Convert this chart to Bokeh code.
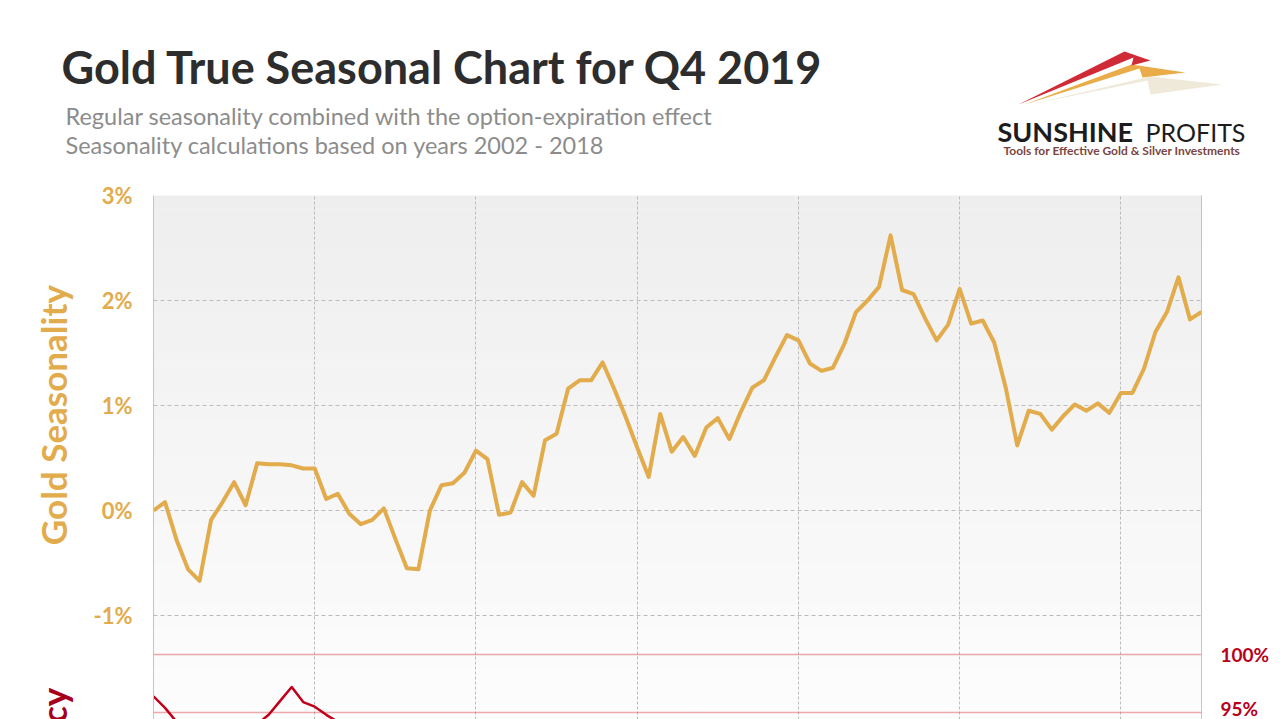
import math
from bokeh.plotting import figure
from bokeh.layouts import column, row
from bokeh.models import (Range1d, LinearAxis, FixedTicker, PrintfTickFormatter, Grid,
                          Label, BoxAnnotation, PolyAnnotation)
from bokeh.embed import file_html
from bokeh.resources import INLINE

# ---------------- data ----------------
day_index = list(range(92))
gold_seasonality = [
    0.00, 0.08, -0.28, -0.56, -0.67, -0.09, 0.08, 0.27, 0.05, 0.45,
    0.44, 0.44, 0.43, 0.40, 0.40, 0.11, 0.16, -0.03, -0.13, -0.09,
    0.02, -0.27, -0.55, -0.56, 0.00, 0.24, 0.26, 0.36, 0.57, 0.49,
    -0.04, -0.02, 0.27, 0.14, 0.67, 0.73, 1.16, 1.24, 1.24, 1.41,
    1.16, 0.89, 0.60, 0.32, 0.92, 0.56, 0.70, 0.52, 0.79, 0.88,
    0.68, 0.94, 1.17, 1.24, 1.46, 1.67, 1.62, 1.40, 1.33, 1.36,
    1.59, 1.89, 2.00, 2.13, 2.62, 2.10, 2.06, 1.83, 1.62, 1.77,
    2.11, 1.78, 1.81, 1.60, 1.17, 0.62, 0.95, 0.92, 0.77, 0.90,
    1.01, 0.95, 1.02, 0.93, 1.12, 1.12, 1.35, 1.70, 1.89, 2.22,
    1.82, 1.89,
]
accuracy_index = list(range(17))
accuracy = [96.4, 95.4, 94.2, 93.4, 92.8, 92.6, 92.8, 93.1, 93.5, 94.0,
            94.8, 96.0, 97.2, 95.9, 95.5, 94.8, 94.2]

seasonality_ticks = [-1, 0, 1, 2, 3]
accuracy_ticks = [95, 100]
x_grid_ticks = [14, 28, 42, 56, 70, 84]

title_text = "Gold True Seasonal Chart for Q4 2019"
subtitle_1 = "Regular seasonality combined with the option-expiration effect"
subtitle_2 = "Seasonality calculations based on years 2002 - 2018"
left_label = "Gold Seasonality"
lower_label = "Accuracy"
logo_1 = "SUNSHINE"
logo_2 = "PROFITS"
logo_tag = "Tools for Effective Gold & Silver Investments"

# ---------------- style / layout ----------------
GOLD = "#e2ab4c"
RED = "#b8001c"
FONT = "Lato"

W, H = 1280, 719
HEADER_H = 175
SIDE_W = 90
frame_top = 195
frame_left, frame_right = 152, 1201
main_w = W - SIDE_W
main_h = H - HEADER_H
x_end = 91
px_per_pct = 105.0
seas_top = 3.0
seas_bottom = seas_top - (H - frame_top) / px_per_pct
acc_px = 11.6
acc_100_y = 654
acc_top = 100 + (acc_100_y - frame_top) / acc_px
acc_bottom = 100 - (H - acc_100_y) / acc_px


def bare(width, height, xr, yr):
    f = figure(width=width, height=height, output_backend="svg", toolbar_location=None,
               x_range=Range1d(*xr), y_range=Range1d(*yr),
               x_axis_location=None, y_axis_location=None,
               min_border=0, min_border_left=0, min_border_right=0,
               min_border_top=0, min_border_bottom=0)
    f.title.visible = False
    f.outline_line_color = None
    f.grid.visible = False
    f.background_fill_color = "white"
    f.border_fill_color = "white"
    return f


def lab(f, text, x, y, size, color, style="normal", align="left", baseline="middle",
        angle=0.0):
    f.add_layout(Label(x=x, y=y, text=text, text_font=FONT, text_font_size=size,
                       text_color=color, text_font_style=style, text_align=align,
                       text_baseline=baseline, angle=angle))


# ---- header (page pixel coordinates) ----
header = bare(W, HEADER_H, (0, W), (HEADER_H, 0))
lab(header, title_text, 61, 66, "45px", "#2d2d2d", "bold")
lab(header, subtitle_1, 65, 115, "23.5px", "#8c8c8c")
lab(header, subtitle_2, 65, 144, "23.5px", "#8c8c8c")


def poly(f, xs, ys, color, alpha):
    f.add_layout(PolyAnnotation(xs=xs, ys=ys, fill_color=color, fill_alpha=alpha,
                                line_color=None))


poly(header, [1030, 1150, 1222, 1150, 1147], [104, 76, 84, 94, 80], "#ebe3cf", 0.8)
poly(header, [1024, 1131, 1185, 1142, 1139], [104, 64, 72, 77, 68], "#e8a83e", 0.95)
poly(header, [1018, 1124, 1150, 1131, 1133], [104, 51, 60, 65, 57], "#cc1f2b", 0.95)
lab(header, logo_1, 997, 131, "27px", "#1c1c1c", "bold")
lab(header, logo_2, 1145, 131, "25px", "#1c1c1c")
lab(header, logo_tag, 1003, 150, "12px", "#7a4640", "bold")

# ---- side strip with rotated axis titles (page pixel coordinates) ----
side = bare(SIDE_W, main_h, (0, SIDE_W), (H, HEADER_H))
lab(side, left_label, 52, 403, "35px", GOLD, "bold", "center", "middle", math.pi / 2)
lab(side, lower_label, 52, 686, "35px", "#a8001c", "bold", "right", "middle", math.pi / 2)

# ---- main chart ----
p = figure(width=main_w, height=main_h, output_backend="svg", toolbar_location=None,
           x_range=Range1d(0, x_end), y_range=Range1d(seas_bottom, seas_top),
           min_border_left=frame_left - SIDE_W, min_border_right=W - frame_right,
           min_border_top=frame_top - HEADER_H, min_border_bottom=0)
p.title.visible = False
p.outline_line_color = None
p.background_fill_color = "#f6f6f6"
p.border_fill_color = "white"
p.extra_y_ranges = {"acc": Range1d(acc_bottom, acc_top)}

n_bands = 40
for k in range(n_bands):
    f0 = k / n_bands
    f1 = (k + 1) / n_bands
    top = seas_top - f0 * (seas_top - seas_bottom)
    bot = seas_top - f1 * (seas_top - seas_bottom)
    c = int(round(238 + (253 - 238) * (f0 + f1) / 2))
    p.add_layout(BoxAnnotation(top=top, bottom=bot, fill_color=(c, c, c), fill_alpha=1.0,
                               line_color=None, level="image"))

p.xaxis.visible = False
p.xaxis.ticker = FixedTicker(ticks=x_grid_ticks)
p.xgrid.grid_line_color = "#bcbcbc"
p.xgrid.grid_line_dash = "3 2"

ya = p.yaxis[0]
ya.ticker = FixedTicker(ticks=seasonality_ticks)
ya.formatter = PrintfTickFormatter(format="%d%%")
ya.major_label_text_font = FONT
ya.major_label_text_font_size = "22px"
ya.major_label_text_font_style = "bold"
ya.major_label_text_color = GOLD
ya.major_tick_line_color = None
ya.major_tick_out = 0
ya.minor_tick_line_color = None
ya.axis_line_color = "#c4c4c4"
ya.major_label_standoff = 21
p.ygrid.grid_line_color = "#bcbcbc"
p.ygrid.grid_line_dash = "4 3"

ra = LinearAxis(y_range_name="acc", ticker=FixedTicker(ticks=accuracy_ticks),
                formatter=PrintfTickFormatter(format="%d%%"))
ra.major_label_text_font = FONT
ra.major_label_text_font_size = "19px"
ra.major_label_text_font_style = "bold"
ra.major_label_text_color = RED
ra.major_tick_line_color = None
ra.major_tick_out = 0
ra.minor_tick_line_color = None
ra.axis_line_color = "#c4c4c4"
ra.major_label_standoff = 19
p.add_layout(ra, "right")

acc_grid = Grid(dimension=1, ticker=FixedTicker(ticks=accuracy_ticks), y_range_name="acc",
                grid_line_color="#d94545", grid_line_alpha=0.9, grid_line_dash="1 1",
                grid_line_width=1.6)
p.add_layout(acc_grid)

p.line(day_index, gold_seasonality, line_color=GOLD, line_width=4, line_join="round")
p.line(accuracy_index, accuracy, y_range_name="acc", line_color="#c0001a", line_width=2.5,
       line_join="round")

layout = column(header, row(side, p, spacing=0), spacing=0)
open("out.html", "w").write(file_html(layout, INLINE))
